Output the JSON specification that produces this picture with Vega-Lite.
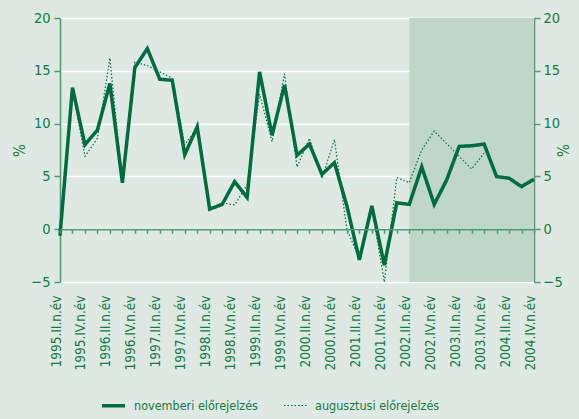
{
  "$schema": "https://vega.github.io/schema/vega-lite/v6.json",
  "width": 474,
  "height": 264,
  "autosize": "none",
  "padding": {"left": 60, "top": 18, "right": 45, "bottom": 137},
  "background": "#dde9e2",
  "config": {
    "view": {"stroke": null},
    "font": "DejaVu Sans Condensed, sans-serif",
    "axis": {
      "labelFont": "DejaVu Sans Condensed, sans-serif",
      "titleFont": "DejaVu Sans Condensed, sans-serif",
      "labelColor": "#17784a",
      "titleColor": "#17784a",
      "domainColor": "#4f9a72",
      "tickColor": "#4f9a72",
      "labelFontSize": 14.5,
      "titleFontSize": 15,
      "titleFontWeight": "normal"
    },
    "legend": {
      "labelFont": "DejaVu Sans Condensed, sans-serif",
      "labelFontSize": 12.5,
      "labelColor": "#17784a"
    }
  },
  "datasets": {
    "series": [
      {"q": "1995.II.n.év", "s": "novemberi előrejelzés", "v": -0.6},
      {"q": "1995.III.n.év", "s": "novemberi előrejelzés", "v": 13.4},
      {"q": "1995.IV.n.év", "s": "novemberi előrejelzés", "v": 8.0},
      {"q": "1996.I.n.év", "s": "novemberi előrejelzés", "v": 9.4},
      {"q": "1996.II.n.év", "s": "novemberi előrejelzés", "v": 13.8},
      {"q": "1996.III.n.év", "s": "novemberi előrejelzés", "v": 4.4},
      {"q": "1996.IV.n.év", "s": "novemberi előrejelzés", "v": 15.3},
      {"q": "1997.I.n.év", "s": "novemberi előrejelzés", "v": 17.1},
      {"q": "1997.II.n.év", "s": "novemberi előrejelzés", "v": 14.2},
      {"q": "1997.III.n.év", "s": "novemberi előrejelzés", "v": 14.1},
      {"q": "1997.IV.n.év", "s": "novemberi előrejelzés", "v": 7.05},
      {"q": "1998.I.n.év", "s": "novemberi előrejelzés", "v": 9.7},
      {"q": "1998.II.n.év", "s": "novemberi előrejelzés", "v": 1.9},
      {"q": "1998.III.n.év", "s": "novemberi előrejelzés", "v": 2.35},
      {"q": "1998.IV.n.év", "s": "novemberi előrejelzés", "v": 4.5},
      {"q": "1999.I.n.év", "s": "novemberi előrejelzés", "v": 3.0},
      {"q": "1999.II.n.év", "s": "novemberi előrejelzés", "v": 14.9},
      {"q": "1999.III.n.év", "s": "novemberi előrejelzés", "v": 8.9},
      {"q": "1999.IV.n.év", "s": "novemberi előrejelzés", "v": 13.65},
      {"q": "2000.I.n.év", "s": "novemberi előrejelzés", "v": 7.0},
      {"q": "2000.II.n.év", "s": "novemberi előrejelzés", "v": 8.06},
      {"q": "2000.III.n.év", "s": "novemberi előrejelzés", "v": 5.2},
      {"q": "2000.IV.n.év", "s": "novemberi előrejelzés", "v": 6.3},
      {"q": "2001.I.n.év", "s": "novemberi előrejelzés", "v": 2.2},
      {"q": "2001.II.n.év", "s": "novemberi előrejelzés", "v": -2.9},
      {"q": "2001.III.n.év", "s": "novemberi előrejelzés", "v": 2.2},
      {"q": "2001.IV.n.év", "s": "novemberi előrejelzés", "v": -3.4},
      {"q": "2002.I.n.év", "s": "novemberi előrejelzés", "v": 2.5},
      {"q": "2002.II.n.év", "s": "novemberi előrejelzés", "v": 2.35},
      {"q": "2002.III.n.év", "s": "novemberi előrejelzés", "v": 5.9},
      {"q": "2002.IV.n.év", "s": "novemberi előrejelzés", "v": 2.35},
      {"q": "2003.I.n.év", "s": "novemberi előrejelzés", "v": 4.67},
      {"q": "2003.II.n.év", "s": "novemberi előrejelzés", "v": 7.84},
      {"q": "2003.III.n.év", "s": "novemberi előrejelzés", "v": 7.9},
      {"q": "2003.IV.n.év", "s": "novemberi előrejelzés", "v": 8.06},
      {"q": "2004.I.n.év", "s": "novemberi előrejelzés", "v": 4.98},
      {"q": "2004.II.n.év", "s": "novemberi előrejelzés", "v": 4.83},
      {"q": "2004.III.n.év", "s": "novemberi előrejelzés", "v": 4.03},
      {"q": "2004.IV.n.év", "s": "novemberi előrejelzés", "v": 4.73},
      {"q": "1995.II.n.év", "s": "augusztusi előrejelzés", "v": -0.6},
      {"q": "1995.III.n.év", "s": "augusztusi előrejelzés", "v": 13.2},
      {"q": "1995.IV.n.év", "s": "augusztusi előrejelzés", "v": 6.9},
      {"q": "1996.I.n.év", "s": "augusztusi előrejelzés", "v": 8.6},
      {"q": "1996.II.n.év", "s": "augusztusi előrejelzés", "v": 16.2},
      {"q": "1996.III.n.év", "s": "augusztusi előrejelzés", "v": 4.5},
      {"q": "1996.IV.n.év", "s": "augusztusi előrejelzés", "v": 15.8},
      {"q": "1997.I.n.év", "s": "augusztusi előrejelzés", "v": 15.5},
      {"q": "1997.II.n.év", "s": "augusztusi előrejelzés", "v": 14.9},
      {"q": "1997.III.n.év", "s": "augusztusi előrejelzés", "v": 14.3},
      {"q": "1997.IV.n.év", "s": "augusztusi előrejelzés", "v": 8.0},
      {"q": "1998.I.n.év", "s": "augusztusi előrejelzés", "v": 9.6},
      {"q": "1998.II.n.év", "s": "augusztusi előrejelzés", "v": 1.9},
      {"q": "1998.III.n.év", "s": "augusztusi előrejelzés", "v": 2.5},
      {"q": "1998.IV.n.év", "s": "augusztusi előrejelzés", "v": 2.3},
      {"q": "1999.I.n.év", "s": "augusztusi előrejelzés", "v": 4.2},
      {"q": "1999.II.n.év", "s": "augusztusi előrejelzés", "v": 12.8},
      {"q": "1999.III.n.év", "s": "augusztusi előrejelzés", "v": 8.3},
      {"q": "1999.IV.n.év", "s": "augusztusi előrejelzés", "v": 14.7},
      {"q": "2000.I.n.év", "s": "augusztusi előrejelzés", "v": 5.9},
      {"q": "2000.II.n.év", "s": "augusztusi előrejelzés", "v": 8.6},
      {"q": "2000.III.n.év", "s": "augusztusi előrejelzés", "v": 4.8},
      {"q": "2000.IV.n.év", "s": "augusztusi előrejelzés", "v": 8.5},
      {"q": "2001.I.n.év", "s": "augusztusi előrejelzés", "v": 0.0},
      {"q": "2001.II.n.év", "s": "augusztusi előrejelzés", "v": -2.8},
      {"q": "2001.III.n.év", "s": "augusztusi előrejelzés", "v": 2.0},
      {"q": "2001.IV.n.év", "s": "augusztusi előrejelzés", "v": -5.0},
      {"q": "2002.I.n.év", "s": "augusztusi előrejelzés", "v": 4.9},
      {"q": "2002.II.n.év", "s": "augusztusi előrejelzés", "v": 4.4},
      {"q": "2002.III.n.év", "s": "augusztusi előrejelzés", "v": 7.5},
      {"q": "2002.IV.n.év", "s": "augusztusi előrejelzés", "v": 9.3},
      {"q": "2003.I.n.év", "s": "augusztusi előrejelzés", "v": 8.1},
      {"q": "2003.II.n.év", "s": "augusztusi előrejelzés", "v": 6.9},
      {"q": "2003.III.n.év", "s": "augusztusi előrejelzés", "v": 5.7},
      {"q": "2003.IV.n.év", "s": "augusztusi előrejelzés", "v": 7.2}
    ],
    "shade": [
      {"from": "2002.II.n.év", "to": "2004.IV.n.év", "lo": -5, "hi": 20}
    ]
  },
  "layer": [
    {
      "data": {"name": "shade"},
      "mark": {"type": "rect", "color": "#bfd7c9"},
      "encoding": {
        "x": {
          "field": "from",
          "type": "ordinal",
          "scale": {"type": "point", "padding": 0},
          "axis": {
            "title": null,
            "orient": "bottom",
            "values": ["1995.II.n.év","1995.IV.n.év","1996.II.n.év","1996.IV.n.év","1997.II.n.év","1997.IV.n.év","1998.II.n.év","1998.IV.n.év","1999.II.n.év","1999.IV.n.év","2000.II.n.év","2000.IV.n.év","2001.II.n.év","2001.IV.n.év","2002.II.n.év","2002.IV.n.év","2003.II.n.év","2003.IV.n.év","2004.II.n.év","2004.IV.n.év"],
            "labelAngle": 270,
            "labelAlign": "right",
            "labelBaseline": "alphabetic",
            "labelFontSize": 13.5,
            "labelPadding": 13,
            "ticks": false,
            "tickSize": 0,
            "domain": false,
            "grid": false,
            "labelOverlap": false
          }
        },
        "x2": {"field": "to"},
        "y": {
          "field": "lo",
          "type": "quantitative",
          "scale": {"domain": [-5, 20], "nice": false, "zero": false},
          "axis": {
            "title": "%",
            "titleAngle": 270,
            "titlePadding": 3,
            "values": [-5, 0, 5, 10, 15, 20],
            "tickSize": 6,
            "tickWidth": 1.5,
            "domainWidth": 1.5,
            "labelPadding": 4,
            "grid": true,
            "gridColor": "#ffffff",
            "gridWidth": 1.5
          }
        },
        "y2": {"field": "hi"}
      }
    },
    {
      "data": {"name": "series"},
      "mark": {"type": "line", "color": "#006b3f", "strokeJoin": "miter", "strokeCap": "butt"},
      "encoding": {
        "x": {
          "field": "q",
          "type": "ordinal",
          "axis": {
            "title": null,
            "orient": "bottom",
            "offset": -52.7,
            "labels": false,
            "ticks": true,
            "tickSize": 4,
            "tickWidth": 1.5,
            "domainWidth": 1.5,
            "grid": false,
            "zindex": 1
          }
        },
        "y": {
          "field": "v",
          "type": "quantitative",
          "axis": {
            "title": "%",
            "orient": "right",
            "titleAngle": 270,
            "titlePadding": 9,
            "values": [-5, 0, 5, 10, 15, 20],
            "tickSize": 6,
            "tickWidth": 1.5,
            "domainWidth": 1.5,
            "labelPadding": 3,
            "grid": false
          }
        },
        "strokeDash": {
          "field": "s",
          "type": "nominal",
          "scale": {"domain": ["novemberi előrejelzés", "augusztusi előrejelzés"], "range": [[1, 0], [1.5, 2]]},
          "legend": {
            "title": null,
            "orient": "none",
            "legendX": 40,
            "legendY": 374,
            "direction": "horizontal",
            "padding": 0,
            "columnPadding": 23,
            "symbolType": "stroke",
            "symbolSize": 529,
            "symbolStrokeColor": "#006b3f",
            "labelOffset": 7
          }
        },
        "strokeWidth": {
          "field": "s",
          "type": "nominal",
          "scale": {"domain": ["novemberi előrejelzés", "augusztusi előrejelzés"], "range": [3.5, 1.2]},
          "legend": {
            "title": null,
            "orient": "none",
            "legendX": 40,
            "legendY": 374,
            "direction": "horizontal",
            "padding": 0,
            "columnPadding": 23,
            "symbolType": "stroke",
            "symbolSize": 529,
            "symbolStrokeColor": "#006b3f",
            "labelOffset": 7
          }
        }
      }
    }
  ],
  "resolve": {"axis": {"x": "independent", "y": "independent"}}
}
